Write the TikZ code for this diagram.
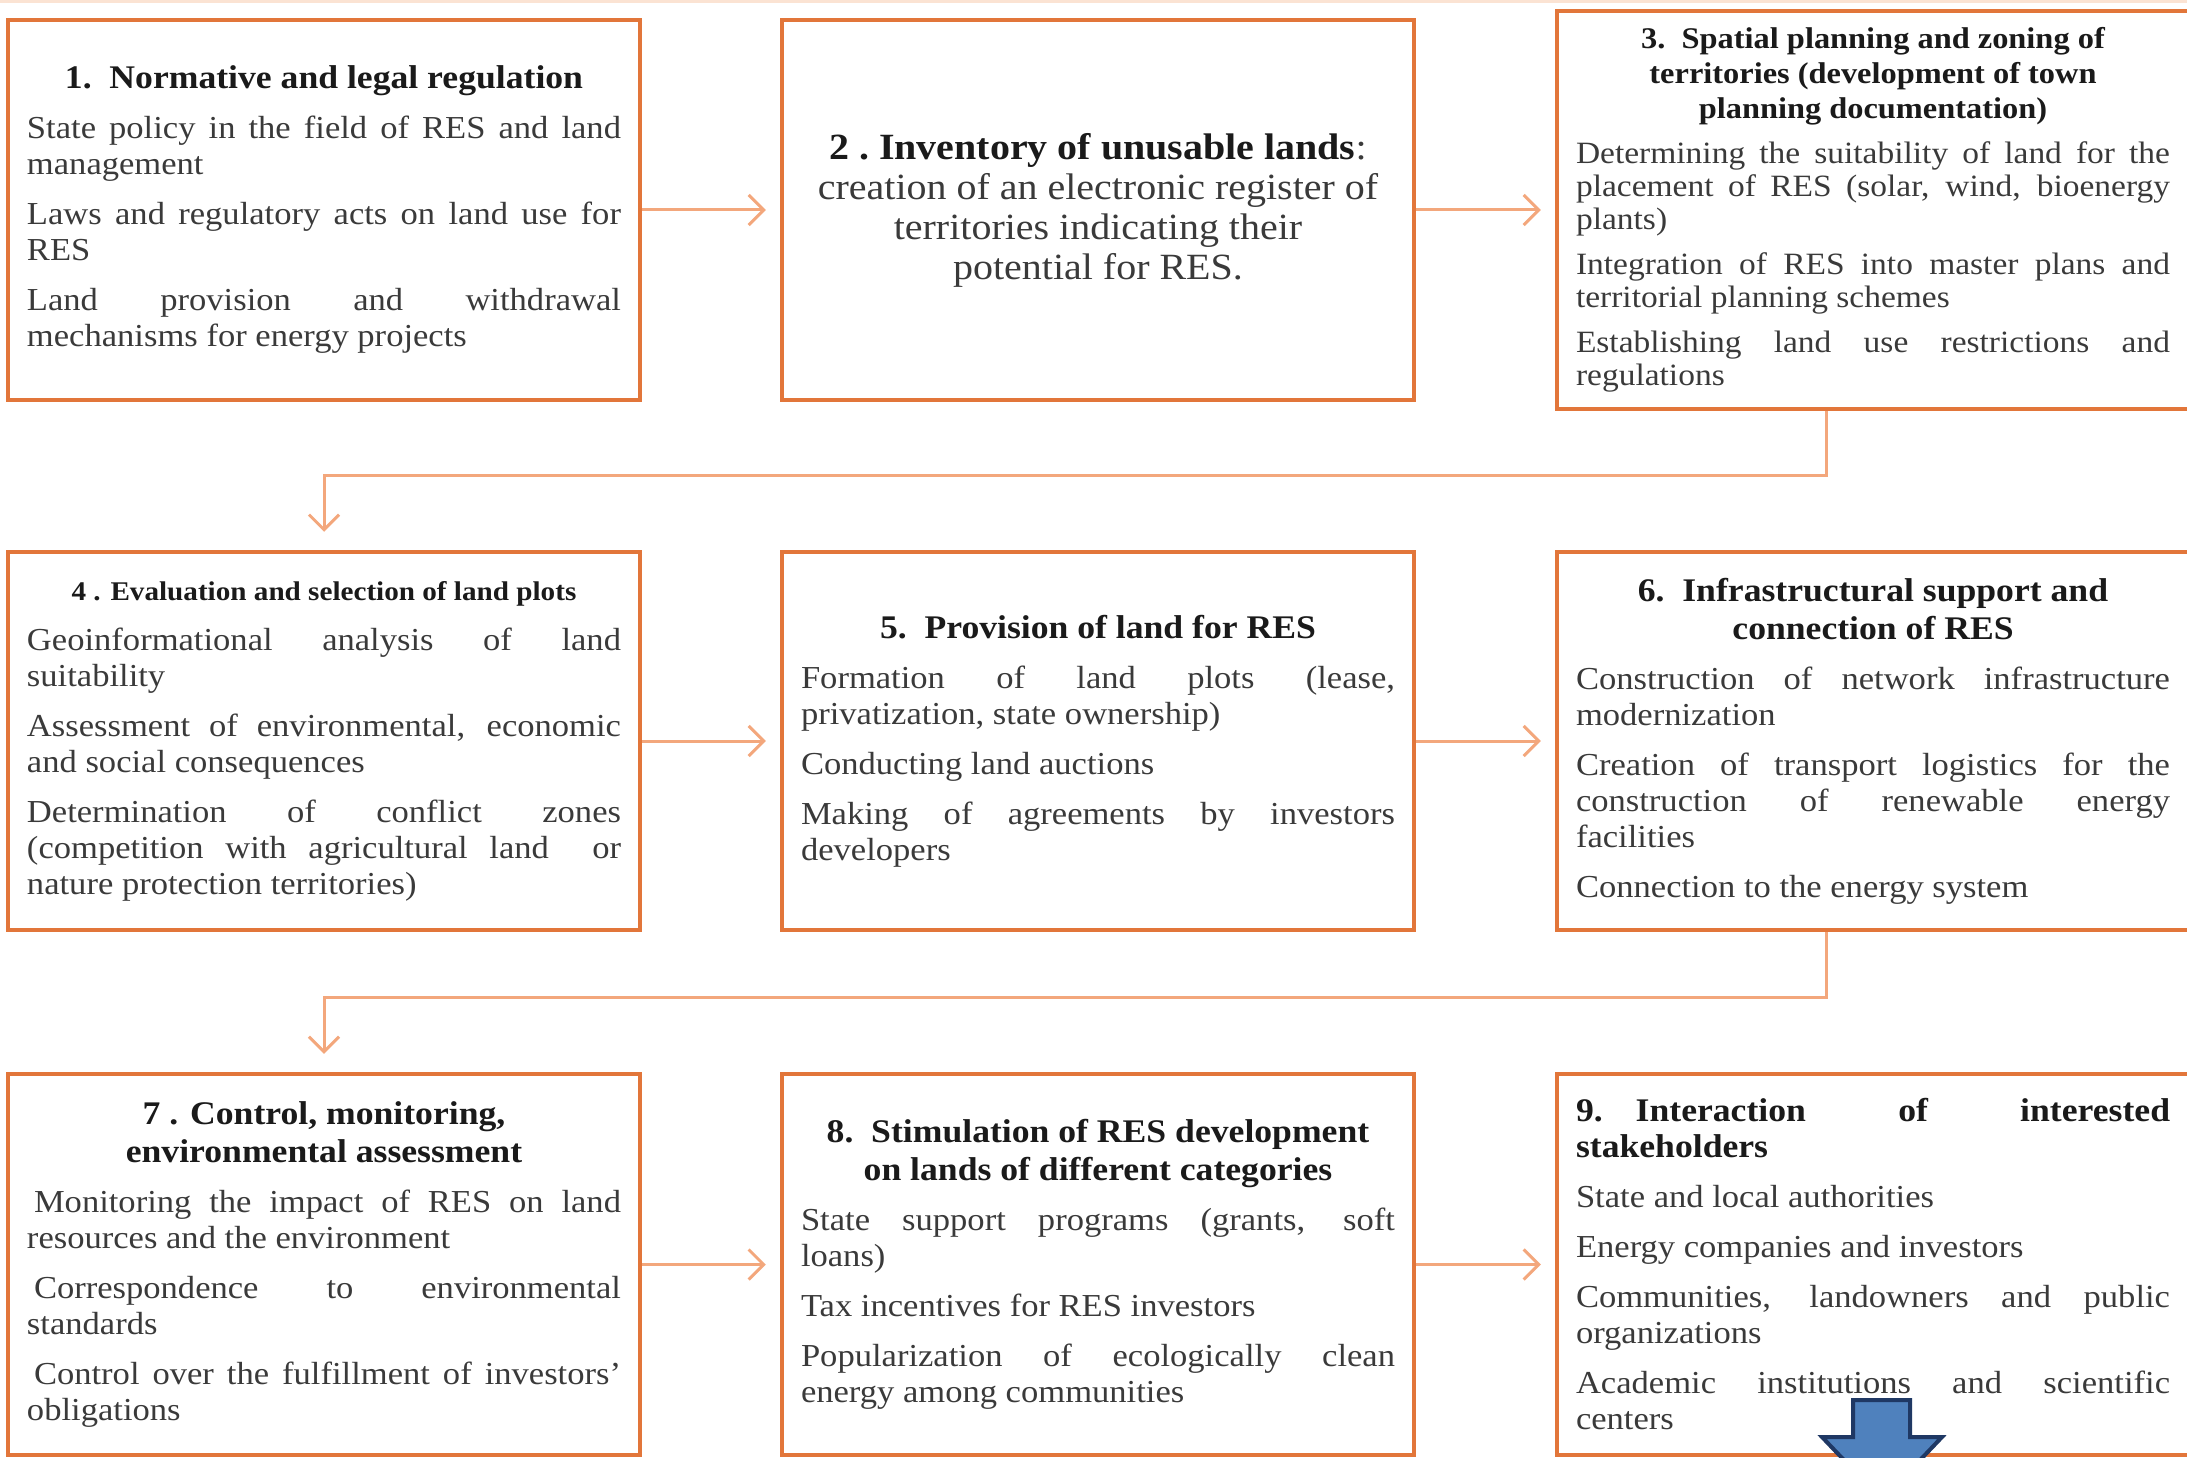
\documentclass[tikz,border=0pt]{standalone}
\usepackage{fontspec}
\setmainfont{Liberation Serif}[FakeStretch=1.08]
\usetikzlibrary{arrows.meta}
\definecolor{boxc}{HTML}{E2763A}
\definecolor{arrc}{HTML}{F3A77C}
\definecolor{bodyc}{HTML}{3A3A3A}
\definecolor{titlec}{HTML}{1A1A1A}
\definecolor{blfill}{HTML}{4F81BD}
\definecolor{bldraw}{HTML}{1F3864}
\definecolor{topc}{HTML}{FBE3D3}
\newcommand\bxtitle[1]{{\centering\fontsize{33}{38}\selectfont\bfseries\color{titlec}#1\par}}
\begin{document}
\begin{tikzpicture}[x=1pt,y=-1pt,
  box/.style={draw=boxc, line width=4.5pt, minimum width=632pt, minimum height=380pt,
    inner sep=0pt, text width=594pt, align=justify, text=bodyc, font=\fontsize{32}{36}\selectfont,
    execute at begin node={\setlength{\parindent}{0pt}\setlength{\parskip}{14pt}}},
  conn/.style={arrc, line width=3pt, -{Straight Barb[length=15pt,width=30pt]}}]
\useasboundingbox (0,0) rectangle (2187,1458);
\clip (0,0) rectangle (2187,1458);
\fill[white] (0,0) rectangle (2187,1458);
\draw[topc, line width=3pt] (0,1.5) -- (2187,1.5);

% Row 1
\node[box] (b1) at (324,210) {%
\bxtitle{1.~~Normative and legal regulation}
State policy in the field of RES and land\linebreak management\par
Laws and regulatory acts on land use for\linebreak RES\par
Land provision and withdrawal\linebreak mechanisms for energy projects\par};

\node[box] (b2) at (1098,210) {%
{\centering\fontsize{37}{40}\selectfont{\bfseries\color{titlec}2 .~Inventory of unusable lands}:\\
creation of an electronic register of\\
territories indicating their\\
potential for RES.\par}};

\node[box, minimum height=398pt, execute at begin node={\setlength{\parindent}{0pt}\setlength{\parskip}{12pt}}] (b3) at (1873,210) {%
{\centering\fontsize{30}{35}\selectfont\bfseries\color{titlec}3.~~Spatial planning and zoning of\\
territories (development of town\\
planning documentation)\par}
\fontsize{31}{33}\selectfont
Determining the suitability of land for the\linebreak placement of RES (solar, wind, bioenergy\linebreak plants)\par
Integration of RES into master plans and\linebreak territorial planning schemes\par
Establishing land use restrictions and\linebreak regulations\par};

% Row 2
\node[box, minimum height=378pt] (b4) at (324,741) {%
{\centering\fontsize{27}{34}\selectfont\bfseries\color{titlec}4 . Evaluation and selection of land plots\par}
Geoinformational analysis of land\linebreak suitability\par
Assessment of environmental, economic\linebreak and social consequences\par
Determination of conflict zones\linebreak (competition with agricultural land~~or\linebreak nature protection territories)\par};

\node[box, minimum height=378pt] (b5) at (1098,741) {%
\bxtitle{5.~~Provision of land for RES}
Formation of land plots (lease,\linebreak privatization, state ownership)\par
Conducting land auctions\par
Making of agreements by investors\linebreak developers\par};

\node[box, minimum height=378pt] (b6) at (1873,741) {%
\bxtitle{6.~~Infrastructural support and\\ connection of RES}
Construction of network infrastructure\linebreak modernization\par
Creation of transport logistics for the\linebreak construction of renewable energy\linebreak facilities\par
Connection to the energy system\par};

% Row 3
\node[box, minimum height=381pt] (b7) at (324,1264.5) {%
\bxtitle{7 . Control, monitoring,\\ environmental assessment}
\hspace*{7pt}Monitoring the impact of RES on land\linebreak resources and the environment\par
\hspace*{7pt}Correspondence to environmental\linebreak standards\par
\hspace*{7pt}Control over the fulfillment of investors'\linebreak obligations\par};

\node[box, minimum height=381pt] (b8) at (1098,1264.5) {%
\bxtitle{8.~~Stimulation of RES development\\ on lands of different categories}
State support programs (grants, soft\linebreak loans)\par
Tax incentives for RES investors\par
Popularization of ecologically clean\linebreak energy among communities\par};

\node[box, minimum height=381pt] (b9) at (1873,1264.5) {%
{\fontsize{33}{36}\selectfont\bfseries\color{titlec}9.\quad Interaction of interested\linebreak stakeholders\par}
State and local authorities\par
Energy companies and investors\par
Communities, landowners and public\linebreak organizations\par
Academic institutions and scientific\linebreak centers\par};

% Horizontal arrows
\draw[conn] (b1.east) -- ([xshift=-14pt]b2.west);
\draw[conn] (b2.east) -- ([xshift=-14pt]b3.west);
\draw[conn] (b4.east) -- ([xshift=-14pt]b5.west);
\draw[conn] (b5.east) -- ([xshift=-14pt]b6.west);
\draw[conn] (b7.east) -- ([xshift=-14pt]b8.west);
\draw[conn] (b8.east) -- ([xshift=-14pt]b9.west);

% Row connectors
\draw[conn] ([xshift=-47pt]b3.south) |- ([yshift=74pt]b4.north) -- ([yshift=18pt]b4.north);
\draw[conn] ([xshift=-47pt]b6.south) |- ([yshift=74pt]b7.north) -- ([yshift=18pt]b7.north);

% Blue block arrow
\draw[fill=blfill, draw=bldraw, line width=4pt, line join=miter]
  (1853,1400) -- (1910,1400) -- (1910,1437) -- (1942,1437) -- (1882,1500)
  -- (1822,1437) -- (1853,1437) -- cycle;
\end{tikzpicture}
\end{document}
